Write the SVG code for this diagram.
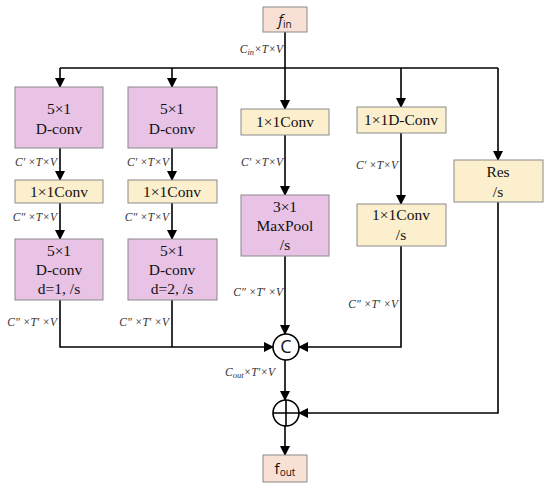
<svg xmlns="http://www.w3.org/2000/svg" width="550" height="488" viewBox="0 0 550 488">
<style>
.pk{fill:#e8c3e6;stroke:#8a8a8a;stroke-width:1}
.yl{fill:#fcefcd;stroke:#8a8a8a;stroke-width:1}
.pe{fill:#f9e0d5;stroke:#8a8a8a;stroke-width:1}
.t{font-family:"Liberation Serif",serif;font-size:15.5px;fill:#111;text-anchor:middle}
.l{font-family:"Liberation Serif",serif;font-size:11.5px;font-style:italic;fill:#333;text-anchor:end}
.s{font-family:"Open Sans","Noto Sans",sans-serif;font-size:15px;fill:#111;text-anchor:middle}
.ln{fill:none;stroke:#000;stroke-width:1.6}
</style>
<defs>
<marker id="ah" markerWidth="10" markerHeight="10" refX="9" refY="5" orient="auto" markerUnits="userSpaceOnUse">
<path d="M0,0 L10,5 L0,10 Z" fill="#000"/>
</marker>
</defs>
<g id="connectors">
<path class="ln" d="M285,32 V109" marker-end="url(#ah)"/>
<path class="ln" d="M60,68 H498"/>
<path class="ln" d="M60,68 V87" marker-end="url(#ah)"/>
<path class="ln" d="M172,68 V87" marker-end="url(#ah)"/>
<path class="ln" d="M401,68 V107" marker-end="url(#ah)"/>
<path class="ln" d="M498,68 V160" marker-end="url(#ah)"/>
<path class="ln" d="M60,148 V180" marker-end="url(#ah)"/>
<path class="ln" d="M172,148 V180" marker-end="url(#ah)"/>
<path class="ln" d="M60,203 V239" marker-end="url(#ah)"/>
<path class="ln" d="M172,203 V239" marker-end="url(#ah)"/>
<path class="ln" d="M60,300 V347 H273" marker-end="url(#ah)"/>
<path class="ln" d="M172,300 V347"/>
<path class="ln" d="M285,135 V195" marker-end="url(#ah)"/>
<path class="ln" d="M285,256 V334" marker-end="url(#ah)"/>
<path class="ln" d="M401,133 V204" marker-end="url(#ah)"/>
<path class="ln" d="M401,246 V347 H299" marker-end="url(#ah)"/>
<path class="ln" d="M498,202 V413 H299" marker-end="url(#ah)"/>
<path class="ln" d="M285,360 V400" marker-end="url(#ah)"/>
<path class="ln" d="M285,426 V455" marker-end="url(#ah)"/>
</g>
<g id="labels">
<text class="l" x="283" y="53"><tspan>C</tspan><tspan style="font-size:8.5px" dy="2">in</tspan><tspan dy="-2">×T×V</tspan></text>
<text class="l" x="57" y="166">C′ ×T×V</text>
<text class="l" x="169" y="166">C′ ×T×V</text>
<text class="l" x="57" y="221">C″ ×T×V</text>
<text class="l" x="169" y="221">C″ ×T×V</text>
<text class="l" x="57" y="326">C″ ×T′ ×V</text>
<text class="l" x="169" y="326">C″ ×T′ ×V</text>
<text class="l" x="283" y="166">C′ ×T×V</text>
<text class="l" x="283" y="296">C″ ×T′ ×V</text>
<text class="l" x="398" y="169">C′ ×T×V</text>
<text class="l" x="398" y="308">C″ ×T′ ×V</text>
<text class="l" x="275" y="376"><tspan>C</tspan><tspan style="font-size:8.5px" dy="2">out</tspan><tspan dy="-2">×T′×V</tspan></text>
</g>
<g id="fin"><rect class="pe" x="263" y="7" width="44" height="25"/><text class="s" x="285" y="25"><tspan style="font-style:italic">f</tspan><tspan style="font-size:10px" dy="3">in</tspan></text></g>
<g id="dconv1"><rect class="pk" x="15" y="87" width="88" height="61"/><text class="t" x="59" y="114">5×1</text><text class="t" x="59" y="134">D-conv</text></g>
<g id="dconv2"><rect class="pk" x="128" y="87" width="89" height="61"/><text class="t" x="172" y="114">5×1</text><text class="t" x="172" y="134">D-conv</text></g>
<g id="conv1"><rect class="yl" x="15" y="180" width="88" height="23"/><text class="t" x="59" y="197">1×1Conv</text></g>
<g id="conv2"><rect class="yl" x="128" y="180" width="89" height="23"/><text class="t" x="172" y="197">1×1Conv</text></g>
<g id="dconvd1"><rect class="pk" x="15" y="239" width="88" height="61"/><text class="t" x="59" y="256">5×1</text><text class="t" x="59" y="275">D-conv</text><text class="t" x="59" y="294">d=1, /s</text></g>
<g id="dconvd2"><rect class="pk" x="128" y="239" width="89" height="61"/><text class="t" x="172" y="256">5×1</text><text class="t" x="172" y="275">D-conv</text><text class="t" x="172" y="294">d=2, /s</text></g>
<g id="conv3"><rect class="yl" x="241" y="109" width="88" height="26"/><text class="t" x="285" y="127">1×1Conv</text></g>
<g id="maxpool"><rect class="pk" x="241" y="195" width="88" height="61"/><text class="t" x="285" y="212">3×1</text><text class="t" x="285" y="231">MaxPool</text><text class="t" x="285" y="250">/s</text></g>
<g id="dconv1x1"><rect class="yl" x="357" y="107" width="89" height="26"/><text class="t" x="401" y="125">1×1D-Conv</text></g>
<g id="conv4"><rect class="yl" x="357" y="204" width="89" height="42"/><text class="t" x="401" y="220">1×1Conv</text><text class="t" x="401" y="240">/s</text></g>
<g id="res"><rect class="yl" x="454" y="160" width="89" height="42"/><text class="t" x="498" y="177">Res</text><text class="t" x="498" y="197">/s</text></g>
<g id="concat"><circle cx="286" cy="347" r="13" fill="#fff" stroke="#000" stroke-width="1.6"/><text class="s" x="286" y="353" style="font-size:18px">C</text></g>
<g id="add"><circle cx="286" cy="413" r="13" fill="#fff" stroke="#000" stroke-width="1.6"/><path d="M273,413 H299 M286,400 V426" stroke="#000" stroke-width="1.6"/></g>
<g id="fout"><rect class="pe" x="263" y="455" width="44" height="27"/><text class="s" x="285" y="474"><tspan>f</tspan><tspan style="font-size:10px" dy="2">out</tspan></text></g>
</svg>
